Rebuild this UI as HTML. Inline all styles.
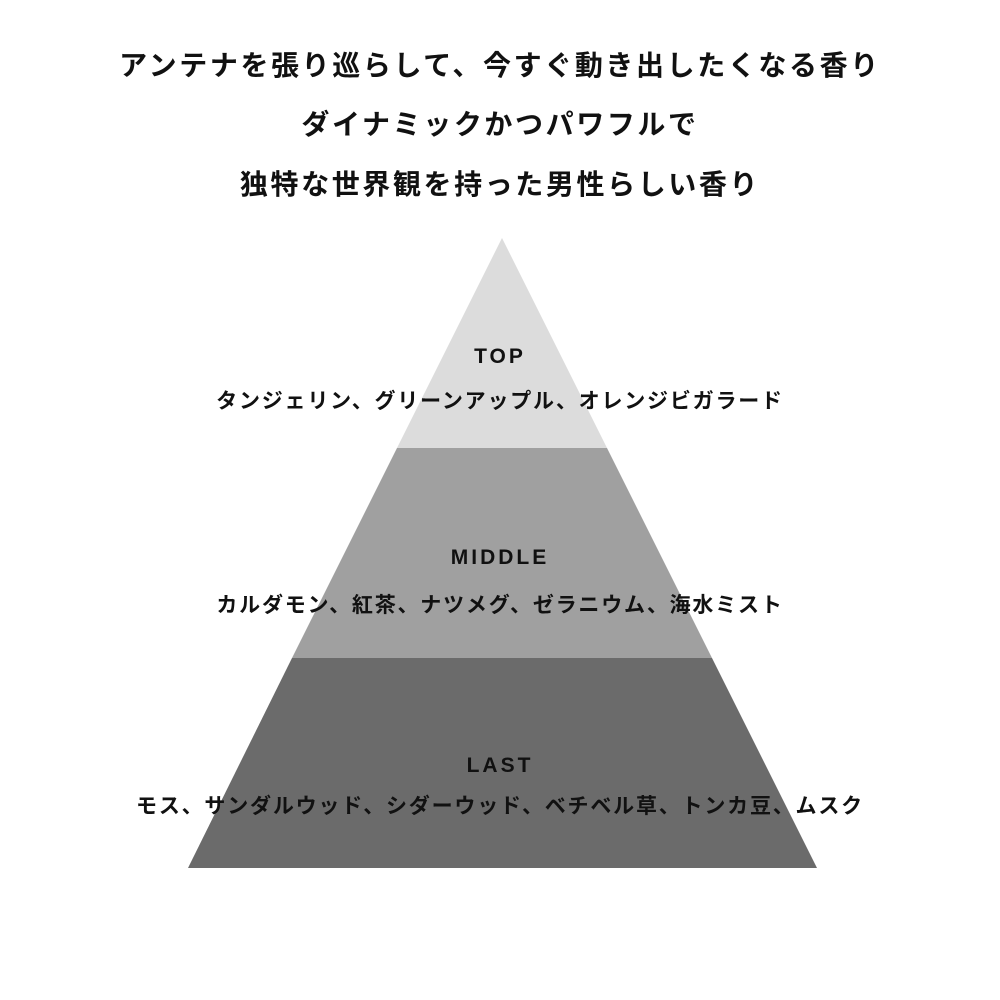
<!DOCTYPE html>
<html><head><meta charset="utf-8"><style>
html,body{margin:0;padding:0;background:#fff;}
body{width:1000px;height:1000px;position:relative;overflow:hidden;font-family:"Liberation Sans","Noto Sans CJK JP",sans-serif;color:#111;}
.h{position:absolute;left:0;width:1000px;text-align:center;font-size:28px;font-weight:bold;letter-spacing:2.6px;line-height:40px;}
.t{position:absolute;left:0;width:1000px;text-align:center;}
.lab{font-size:21px;letter-spacing:3px;line-height:30px;font-weight:600;}
.jp{font-size:21px;letter-spacing:1.8px;line-height:30px;font-weight:600;}
</style></head><body>
<div class="h" style="top:46px">アンテナを張り巡らして、今すぐ動き出したくなる香り</div>
<div class="h" style="top:105px">ダイナミックかつパワフルで</div>
<div class="h" style="top:165px">独特な世界観を持った男性らしい香り</div>
<svg width="1000" height="1000" style="position:absolute;left:0;top:0">
<polygon points="502,238 607,448 397,448" fill="#dcdcdc"/>
<polygon points="397,448 607,448 712,658 292,658" fill="#a0a0a0"/>
<polygon points="292,658 712,658 817,868 188,868" fill="#6b6b6b"/>
</svg>
<div class="t lab" style="top:342px">TOP</div>
<div class="t jp" style="top:387px">タンジェリン、グリーンアップル、オレンジビガラード</div>
<div class="t lab" style="top:543px">MIDDLE</div>
<div class="t jp" style="top:591px">カルダモン、紅茶、ナツメグ、ゼラニウム、海水ミスト</div>
<div class="t lab" style="top:751px">LAST</div>
<div class="t jp" style="top:792px">モス、サンダルウッド、シダーウッド、ベチベル草、トンカ豆、ムスク</div>
</body></html>
